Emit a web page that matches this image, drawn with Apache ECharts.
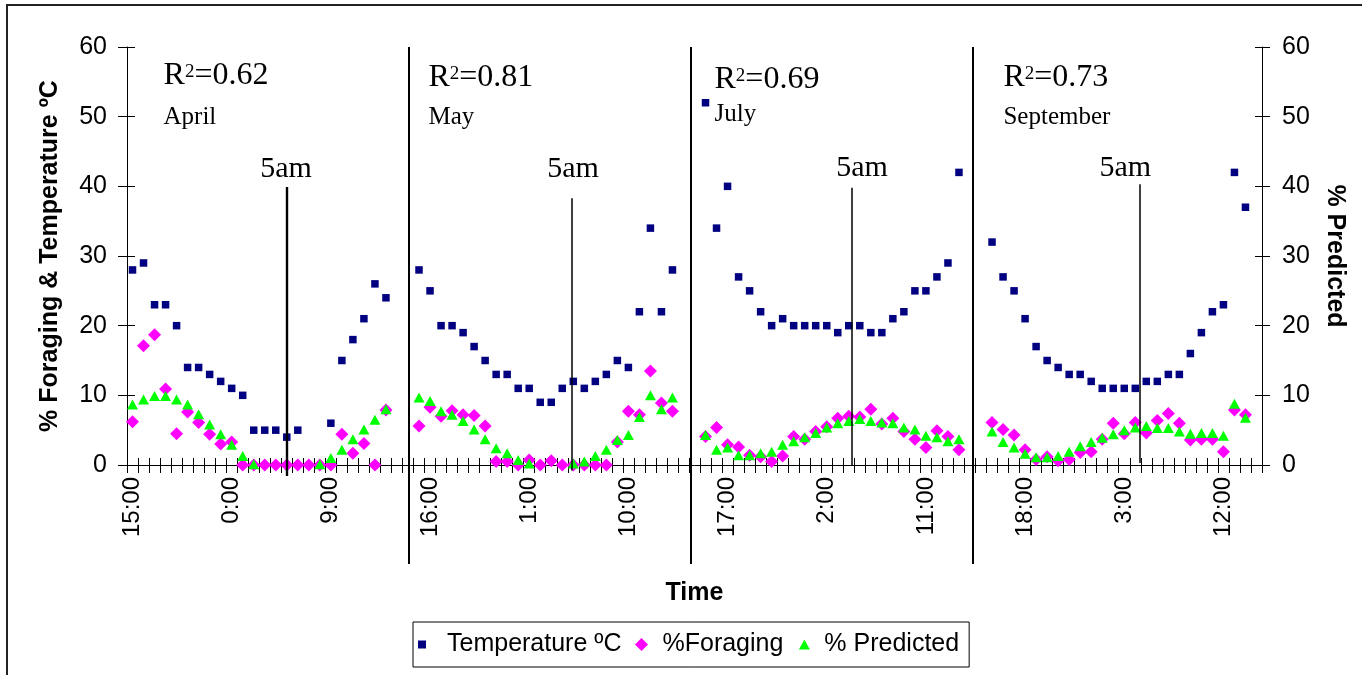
<!DOCTYPE html>
<html>
<head>
<meta charset="utf-8">
<script src="https://cdn.jsdelivr.net/npm/echarts/dist/echarts.min.js"></script>
<style>
html, body { margin: 0; padding: 0; background: #fff; }
#demo { width: 1362px; height: 675px; }
</style>
</head>
<body>
<div id="demo"></div>
<script>
// hour labels, one panel = 24 hourly readings starting at 15:00
var hours = ['15:00','16:00','17:00','18:00','19:00','20:00','21:00','22:00','23:00','0:00','1:00','2:00',
             '3:00','4:00','5:00','6:00','7:00','8:00','9:00','10:00','11:00','12:00','13:00','14:00'];
var months = ['April', 'May', 'July', 'September'];
var r2 = ['0.62', '0.81', '0.69', '0.73'];

// temperature ºC
var tempApril = [28,29,23,23,20,14,14,13,12,11,10,5,5,5,4,5,null,null,6,15,18,21,26,24];
var tempMay = [28,25,20,20,19,17,15,13,13,11,11,9,9,11,12,11,12,13,15,14,22,34,22,28];
var tempJuly = [52,34,40,27,25,22,20,21,20,20,20,20,19,20,20,19,19,21,22,25,25,27,29,42];
var tempSeptember = [32,27,25,21,17,15,14,13,13,12,11,11,11,11,12,12,13,13,16,19,22,23,42,37];

// % foraging
var foragApril = [6.2,17.1,18.7,10.9,4.5,7.6,6.1,4.4,3.0,3.3,0,0,0,0,0,0,0,0,0,4.4,1.7,3.1,0,7.9];
var foragMay = [5.6,8.3,7.0,7.8,7.2,7.1,5.6,0.5,0.5,0,0.7,0,0.6,0,0,0,0,0,3.3,7.7,7.2,13.5,8.9,7.7];
var foragJuly = [4.1,5.4,2.9,2.6,1.4,1.2,0.5,1.3,4.1,3.7,4.8,5.5,6.7,7.0,6.9,8.0,5.9,6.7,4.8,3.7,2.5,4.9,4.1,2.2];
var foragSeptember = [6.1,5.1,4.3,2.2,0.8,1.2,0.6,0.8,1.8,1.9,3.7,6.0,4.5,6.1,4.6,6.4,7.4,6.0,3.6,3.7,3.7,1.9,7.9,7.2];

// % predicted
var predApril = [8.7,9.4,9.9,9.9,9.4,8.7,7.3,5.8,4.4,2.9,1.3,0.1,null,null,null,null,null,0.1,1.0,2.2,3.7,5.1,6.5,8.0];
var predMay = [9.7,9.2,7.7,7.2,6.3,5.1,3.7,2.4,1.7,0.7,0.2,null,null,null,0.2,0.5,1.3,2.2,3.6,4.3,6.9,10.0,8.0,9.7];
var predJuly = [4.3,2.2,2.5,1.4,1.4,1.7,1.9,2.9,3.4,4.0,4.6,5.4,6.0,6.3,6.6,6.3,6.1,6.0,5.4,5.1,4.2,4.0,3.4,3.7];
var predSeptember = [4.8,3.3,2.5,1.6,1.1,1.1,1.3,1.9,2.7,3.3,3.9,4.4,5.0,5.4,5.6,5.3,5.3,4.8,4.5,4.6,4.6,4.2,8.8,6.8];

// two empty slots between the months
var gap = ['', ''];
var gapVal = [null, null];
var categories = hours.concat(gap, hours, gap, hours, gap, hours, ['']);
var temperature = tempApril.concat(gapVal, tempMay, gapVal, tempJuly, gapVal, tempSeptember, [null]);
var foraging = foragApril.concat(gapVal, foragMay, gapVal, foragJuly, gapVal, foragSeptember, [null]);
var predicted = predApril.concat(gapVal, predMay, gapVal, predJuly, gapVal, predSeptember, [null]);

var sans = 'Liberation Sans, Arial, sans-serif';
var serif = 'Liberation Serif, Times New Roman, serif';

// annotation places, in category units (x) and axis units (y)
var dividerX = [25.09, 50.65, 76.21];
var fiveAmLines = [[14.0, 39.9, -1.6, 2.4], [39.9, 38.3, -0.8, 1.5], [65.3, 39.8, 0, 1.5], [91.45, 40.3, 0.3, 1.5]];
var fiveAmText = [[13.93, 42.5], [39.97, 42.5], [66.2, 42.6], [90.1, 42.6]];
var r2Pos = [[2.77, 55.9], [26.81, 55.6], [52.77, 55.3], [78.99, 55.6]];
var monthPos = [[2.77, 49.85], [26.81, 49.85], [52.77, 50.3], [78.99, 49.85]];

var lines = [];
dividerX.forEach(function (x) {
    lines.push([{ coord: [x, 60], lineStyle: { width: 2 } }, { coord: [x, -14.2] }]);
});
fiveAmLines.forEach(function (l) {
    lines.push([{ coord: [l[0], l[1]], lineStyle: { width: l[3] } }, { coord: [l[0], l[2]] }]);
});

var texts = [];
for (var i = 0; i < 4; i++) {
    texts.push({ coord: r2Pos[i], label: {
        formatter: 'R{s|2}=' + r2[i], fontSize: 32, position: 'right', distance: 0,
        rich: { s: { fontSize: 19, fontFamily: serif, color: '#000', verticalAlign: 'top', padding: [3, 0, 0, 0] } }
    } });
    texts.push({ coord: monthPos[i], label: { formatter: months[i], fontSize: 25, position: 'right', distance: 0 } });
    texts.push({ coord: fiveAmText[i], label: { formatter: '5am', fontSize: 30, position: 'inside' } });
}

var chartDom = document.getElementById('demo');
var myChart = echarts.init(chartDom, null, { renderer: 'canvas' });
var option = {
    backgroundColor: '#fff',
    animation: false,
    textStyle: { fontFamily: sans },
    graphic: [{
        type: 'rect',
        shape: { x: 7, y: 5, width: 1400, height: 700 },
        style: { fill: 'none', stroke: '#222', lineWidth: 2 },
        silent: true
    }],
    grid: [
        { left: 127, right: 100, top: 47, height: 418, outerBoundsMode: 'none' },
        { left: 127, right: 100, top: 47, height: 516.9, outerBoundsMode: 'none' },
        { left: 127, right: 100, top: 47, height: 418, outerBoundsMode: 'none' }
    ],
    legend: {
        left: 413, top: 622,
        padding: [10, 10, 10, 5],
        itemGap: 12, itemWidth: 24, itemHeight: 13,
        borderColor: '#000', borderWidth: 1, borderRadius: 0,
        backgroundColor: '#fff',
        textStyle: { fontFamily: sans, fontSize: 25, color: '#000' },
        data: [
            { name: 'Temperature ºC', icon: 'path://M0,0M24,13M0,2.5L8,2.5L8,10.5L0,10.5Z' },
            { name: '%Foraging', icon: 'path://M0,0M24,13M8,0L14.5,6.5L8,13L1.5,6.5Z' },
            { name: '% Predicted', icon: 'path://M0,0M24,13M9,1.5L14.5,11.5L3.5,11.5Z' }
        ]
    },
    xAxis: [
        {
            type: 'category', gridIndex: 0, data: categories, position: 'bottom',
            name: 'Time', nameLocation: 'middle', nameGap: 116, nameMoveOverlap: false,
            nameTextStyle: { fontFamily: sans, fontSize: 25, fontWeight: 'bold', color: '#000' },
            axisLine: { show: true, onZero: false, lineStyle: { color: '#000', width: 1 } },
            axisTick: { show: true, interval: 0, length: 8, lineStyle: { color: '#000' } },
            axisLabel: { interval: 8, rotate: 90, margin: 12, fontFamily: sans, fontSize: 24, color: '#000' },
            splitLine: { show: false }
        },
        { type: 'value', gridIndex: 1, min: -0.5, max: 102.5, show: false },
        {
            type: 'category', gridIndex: 2, data: categories, position: 'bottom',
            axisLine: { show: false },
            axisTick: { show: true, inside: true, interval: 0, length: 7, lineStyle: { color: '#000' } },
            axisLabel: { show: false },
            splitLine: { show: false }
        }
    ],
    yAxis: [
        {
            type: 'value', gridIndex: 0, position: 'left', min: 0, max: 60, interval: 10,
            name: '% Foraging & Temperature ºC', nameLocation: 'middle', nameGap: 64, nameMoveOverlap: false,
            nameTextStyle: { fontFamily: sans, fontSize: 25, fontWeight: 'bold', color: '#000' },
            axisLine: { show: true, lineStyle: { color: '#000', width: 1 } },
            axisTick: { show: true, length: 9, lineStyle: { color: '#000' } },
            axisLabel: { margin: 20, fontFamily: sans, fontSize: 25, color: '#000' },
            splitLine: { show: false }
        },
        {
            type: 'value', gridIndex: 0, position: 'right', min: 0, max: 60, interval: 10,
            name: '% Predicted', nameLocation: 'middle', nameGap: 60, nameRotate: -90, nameMoveOverlap: false,
            nameTextStyle: { fontFamily: sans, fontSize: 25, fontWeight: 'bold', color: '#000' },
            axisLine: { show: true, lineStyle: { color: '#000', width: 1 } },
            axisTick: { show: true, length: 8, lineStyle: { color: '#000' } },
            axisLabel: { margin: 20, fontFamily: sans, fontSize: 25, color: '#000' },
            splitLine: { show: false }
        },
        { type: 'value', gridIndex: 1, min: -14.2, max: 60, show: false },
        {
            type: 'value', gridIndex: 2, position: 'left', min: 0, max: 60, interval: 10,
            axisLine: { show: false }, axisLabel: { show: false }, splitLine: { show: false },
            axisTick: { show: true, inside: true, length: 8, lineStyle: { color: '#000' } }
        },
        {
            type: 'value', gridIndex: 2, position: 'right', min: 0, max: 60, interval: 10,
            axisLine: { show: false }, axisLabel: { show: false }, splitLine: { show: false },
            axisTick: { show: true, inside: true, length: 7, lineStyle: { color: '#000' } }
        }
    ],
    series: [
        {
            name: 'Temperature ºC', type: 'scatter', xAxisIndex: 0, yAxisIndex: 0,
            symbol: 'rect', symbolSize: 7.5,
            itemStyle: { color: '#000080', opacity: 1 },
            data: temperature
        },
        {
            name: '%Foraging', type: 'scatter', xAxisIndex: 0, yAxisIndex: 0,
            symbol: 'diamond', symbolSize: 13,
            itemStyle: { color: '#ff00ff', opacity: 1 },
            data: foraging
        },
        {
            name: '% Predicted', type: 'scatter', xAxisIndex: 0, yAxisIndex: 1,
            symbol: 'triangle', symbolSize: [11, 10],
            itemStyle: { color: '#00ff00', opacity: 1 },
            data: predicted
        },
        {
            name: 'notes', type: 'scatter', xAxisIndex: 1, yAxisIndex: 2, data: [],
            silent: true,
            markLine: {
                silent: true, symbol: ['none', 'none'], animation: false,
                label: { show: false },
                lineStyle: { color: '#000', type: 'solid', width: 1.5 },
                data: lines
            },
            markPoint: {
                silent: true, symbol: 'circle', symbolSize: 1, animation: false,
                itemStyle: { color: 'rgba(0,0,0,0)' },
                label: { show: true, color: '#000', fontFamily: serif },
                data: texts
            }
        }
    ]
};
option && myChart.setOption(option);
</script>
</body>
</html>
